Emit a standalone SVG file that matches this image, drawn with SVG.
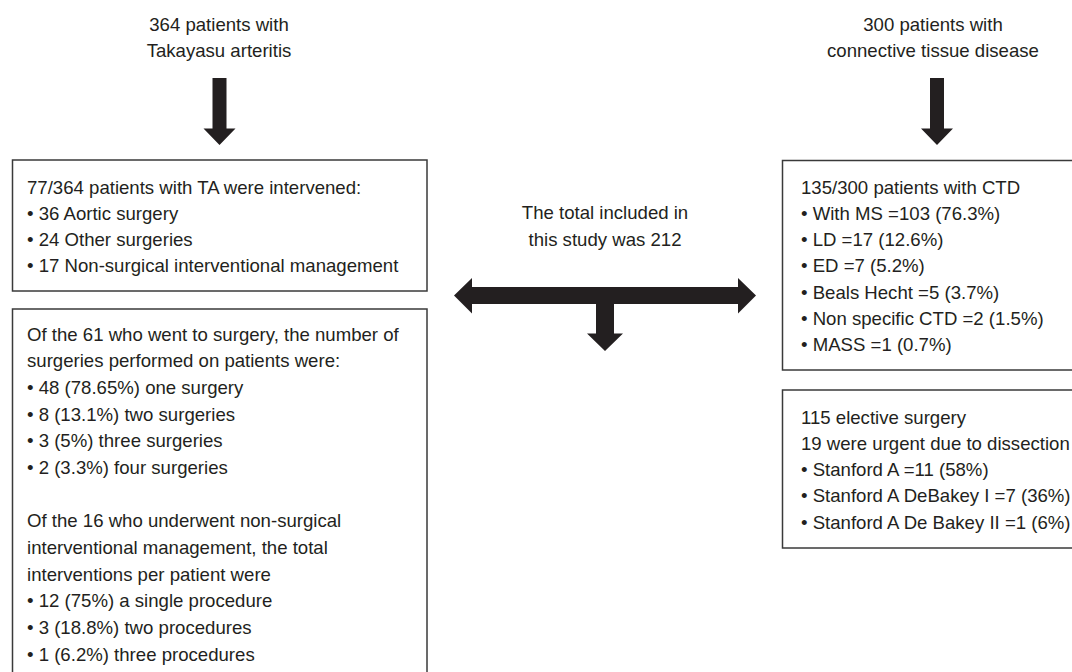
<svg xmlns="http://www.w3.org/2000/svg" width="1072" height="672" viewBox="0 0 1072 672">
<style>
text{font-family:"Liberation Sans",Arial,Helvetica,sans-serif;font-size:18.6px;fill:#231f20}
.c{text-anchor:middle}
.box{fill:#fff;stroke:#3a3a3a;stroke-width:1.5}
.arr{fill:#231f20;stroke:none}
</style>
<rect width="1072" height="672" fill="#fff"/>
<g id="title-ta">
<text class="c" x="219" y="31">364 patients with</text>
<text class="c" x="219" y="57">Takayasu arteritis</text>
</g>
<g id="title-ctd">
<text class="c" x="933" y="31">300 patients with</text>
<text class="c" x="933" y="57">connective tissue disease</text>
</g>
<g id="total">
<text class="c" x="605" y="219">The total included in</text>
<text class="c" x="605" y="245.5">this study was 212</text>
</g>
<g id="ta-intervened">
<rect class="box" x="12.5" y="160" width="414.5" height="131"/>
<text x="27" y="193.5">77/364 patients with TA were intervened:</text>
<text x="27" y="219.8">• 36 Aortic surgery</text>
<text x="27" y="246.1">• 24 Other surgeries</text>
<text x="27" y="272.4">• 17 Non-surgical interventional management</text>
</g>
<g id="ta-details">
<rect class="box" x="12.5" y="309" width="414.5" height="380"/>
<text x="27" y="340.5">Of the 61 who went to surgery, the number of</text>
<text x="27" y="367.2">surgeries performed on patients were:</text>
<text x="27" y="393.8">• 48 (78.65%) one surgery</text>
<text x="27" y="420.5">• 8 (13.1%) two surgeries</text>
<text x="27" y="447.2">• 3 (5%) three surgeries</text>
<text x="27" y="473.8">• 2 (3.3%) four surgeries</text>
<text x="27" y="527.2">Of the 16 who underwent non-surgical</text>
<text x="27" y="553.8">interventional management, the total</text>
<text x="27" y="580.5">interventions per patient were</text>
<text x="27" y="607.2">• 12 (75%) a single procedure</text>
<text x="27" y="633.8">• 3 (18.8%) two procedures</text>
<text x="27" y="660.5">• 1 (6.2%) three procedures</text>
</g>
<g id="ctd-patients">
<rect class="box" x="782.5" y="160.5" width="300" height="209.5"/>
<text x="801" y="193.5">135/300 patients with CTD</text>
<text x="801" y="219.8">• With MS =103 (76.3%)</text>
<text x="801" y="246.1">• LD =17 (12.6%)</text>
<text x="801" y="272.4">• ED =7 (5.2%)</text>
<text x="801" y="298.7">• Beals Hecht =5 (3.7%)</text>
<text x="801" y="325">• Non specific CTD =2 (1.5%)</text>
<text x="801" y="351.3">• MASS =1 (0.7%)</text>
</g>
<g id="ctd-surgery">
<rect class="box" x="782.5" y="390" width="300" height="158"/>
<text x="801" y="423.5">115 elective surgery</text>
<text x="801" y="449.8">19 were urgent due to dissection</text>
<text x="801" y="476.1">• Stanford A =11 (58%)</text>
<text x="801" y="502.4">• Stanford A DeBakey I =7 (36%)</text>
<text x="801" y="528.7">• Stanford A De Bakey II =1 (6%)</text>
</g>
<g id="connectors">
<polygon class="arr" points="212.5,78 226.5,78 226.5,128.5 235.5,128.5 219.5,145 203.5,128.5 212.5,128.5"/>
<polygon class="arr" points="930,78 944,78 944,128.5 953,128.5 937,145 921,128.5 930,128.5"/>
<polygon class="arr" points="454,295.5 472,278 472,287 738,287 738,278 756,295.5 738,313.5 738,304 614,304 614,333.5 623,333.5 605,351 587,333.5 596,333.5 596,304 472,304 472,313.5"/>
</g>
</svg>
